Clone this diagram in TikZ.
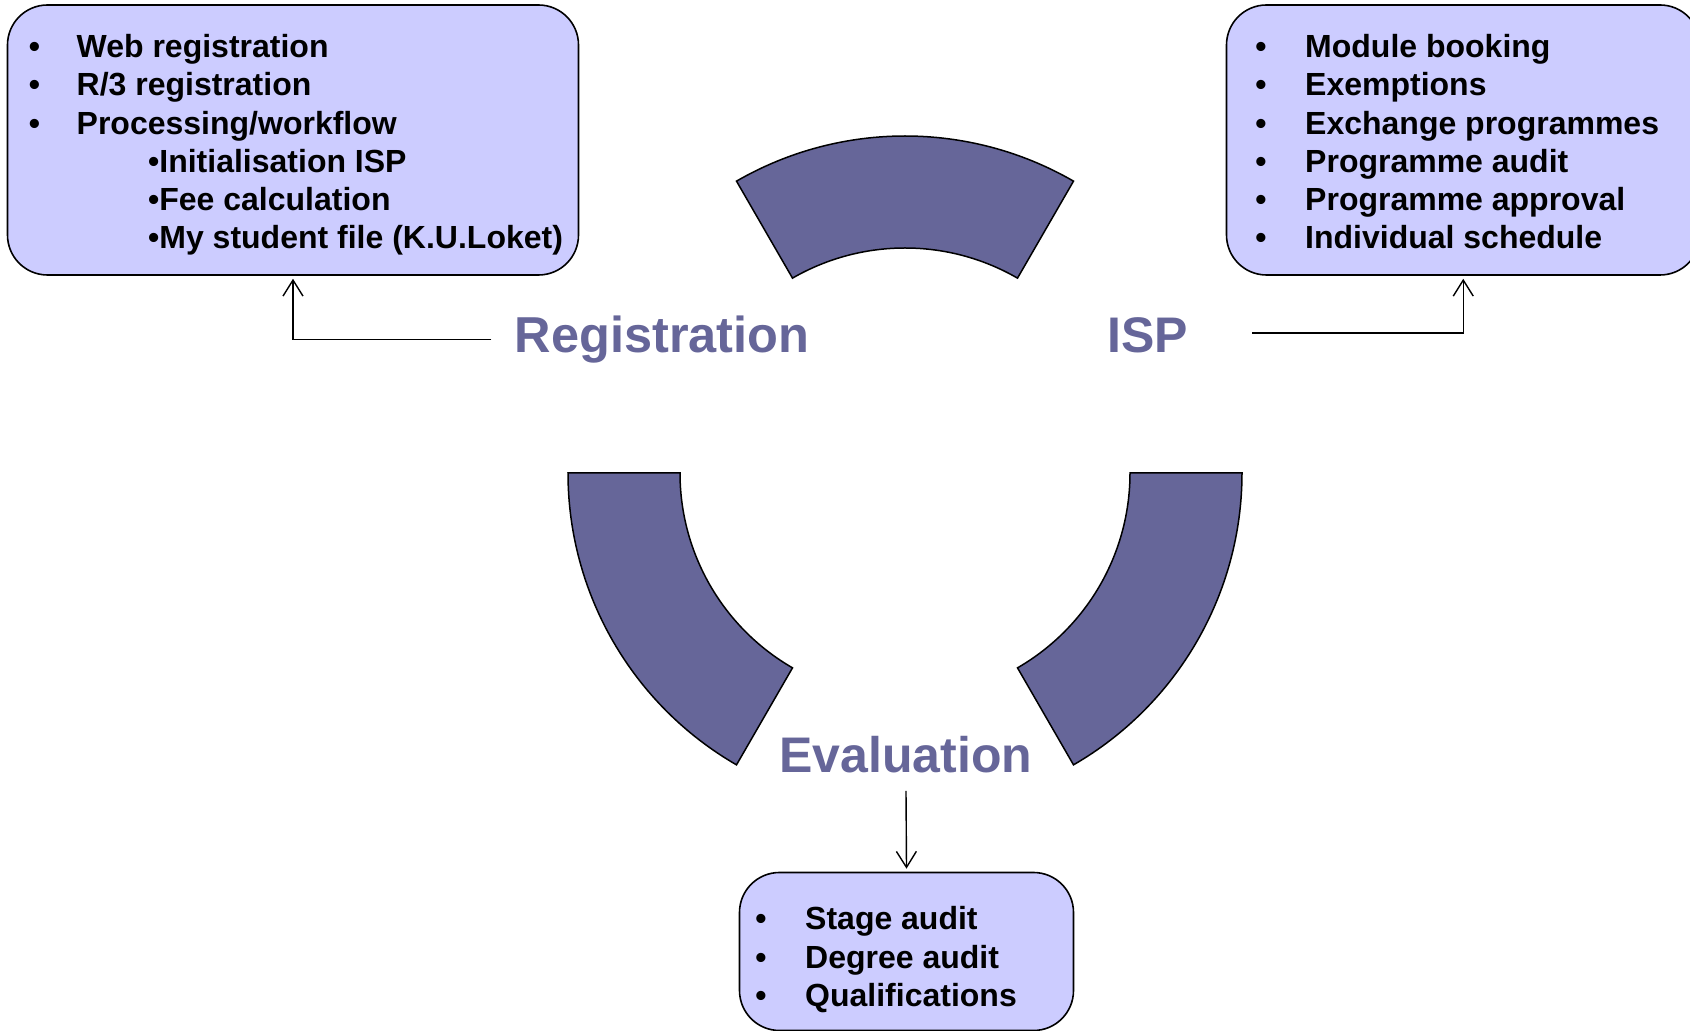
\documentclass[tikz,border=0pt]{standalone}
\usepackage{fontspec}
\setmainfont{Liberation Sans}
\usetikzlibrary{arrows.meta}
\definecolor{segfill}{HTML}{666699}
\definecolor{boxfill}{HTML}{CCCCFF}
\definecolor{labcol}{HTML}{666699}
\begin{document}
\begin{tikzpicture}[x=1pt,y=1pt,
  seg/.style={draw=black, line width=1.5pt, fill=segfill, line join=miter},
  infobox/.style={draw=black, line width=1.6pt, fill=boxfill, rounded corners=40pt, inner sep=0pt},
  itm/.style={font=\bfseries\fontsize{32}{38}\selectfont, inner sep=0pt, anchor=base west},
  bul/.style={font=\bfseries\fontsize{32}{38}\selectfont, inner sep=0pt, anchor=base},
  lab/.style={font=\bfseries\fontsize{50}{60}\selectfont, text=labcol, inner sep=0pt, anchor=base},
  arr/.style={draw=black, line width=1.4pt, -{Straight Barb[length=16pt,width=20pt]}}]
\clip (0,0) rectangle (1690,1031);
\fill[white] (0,0) rectangle (1690,1031);

% ring segments
\coordinate (c) at (905,558);
\draw[seg] ([shift={(60:337)}]c) arc[start angle=60,end angle=120,radius=337]
  -- ([shift={(120:225)}]c) arc[start angle=120,end angle=60,radius=225] -- cycle;
\draw[seg] ([shift={(180:337)}]c) arc[start angle=180,end angle=240,radius=337]
  -- ([shift={(240:225)}]c) arc[start angle=240,end angle=180,radius=225] -- cycle;
\draw[seg] ([shift={(300:337)}]c) arc[start angle=300,end angle=360,radius=337]
  -- ([shift={(360:225)}]c) arc[start angle=360,end angle=300,radius=225] -- cycle;

% boxes
\node[infobox, minimum width=571pt, minimum height=270pt] (lbox) at (293,891) {};
\node[infobox, minimum width=473.5pt, minimum height=270pt] (rbox) at (1463.25,891) {};
\node[infobox, minimum width=334pt, minimum height=158pt] (bbox) at (906.5,79.5) {};

% left box text
\node[bul] (lb1) at (34.5,973.5) {•};
\node[itm] (lt1) at (76.5,973.5) {Web registration};
\node[bul] (lb2) at (34.5,935.2) {•};
\node[itm] (lt2) at (76.5,935.2) {R/3 registration};
\node[bul] (lb3) at (34.5,896.9) {•};
\node[itm] (lt3) at (76.5,896.9) {Processing/workflow};
\node[itm] (lt4) at (148,858.6) {•Initialisation ISP};
\node[itm] (lt5) at (148,820.3) {•Fee calculation};
\node[itm] (lt6) at (148,782) {•My student file (K.U.Loket)};

% right box text
\node[bul] (rb1) at (1261,973.5) {•};
\node[itm] (rt1) at (1305,973.5) {Module booking};
\node[bul] (rb2) at (1261,935.2) {•};
\node[itm] (rt2) at (1305,935.2) {Exemptions};
\node[bul] (rb3) at (1261,896.9) {•};
\node[itm] (rt3) at (1305,896.9) {Exchange programmes};
\node[bul] (rb4) at (1261,858.6) {•};
\node[itm] (rt4) at (1305,858.6) {Programme audit};
\node[bul] (rb5) at (1261,820.3) {•};
\node[itm] (rt5) at (1305,820.3) {Programme approval};
\node[bul] (rb6) at (1261,782) {•};
\node[itm] (rt6) at (1305,782) {Individual schedule};

% bottom box text
\node[bul] (bb1) at (761,101) {•};
\node[itm] (bt1) at (805,101) {Stage audit};
\node[bul] (bb2) at (761,62.7) {•};
\node[itm] (bt2) at (805,62.7) {Degree audit};
\node[bul] (bb3) at (761,24.4) {•};
\node[itm] (bt3) at (805,24.4) {Qualifications};

% labels
\node[lab, font=\bfseries\fontsize{50.5}{60}\selectfont] (reg) at (662,678.7) {Registration};
\node[lab] (isp) at (1147.5,678.7) {ISP};
\node[lab] (eval) at (906,258.7) {Evaluation};

% connectors
\draw[arr] ([xshift=-23pt]reg.west) -| ([yshift=-3pt]lbox.south);
\draw[arr] ([xshift=64pt,yshift=2pt]isp.east) -| ([yshift=-3pt]rbox.south);
\draw[arr] ([yshift=-18pt]eval.south) -- ([yshift=3pt]bbox.north);
\end{tikzpicture}
\end{document}
